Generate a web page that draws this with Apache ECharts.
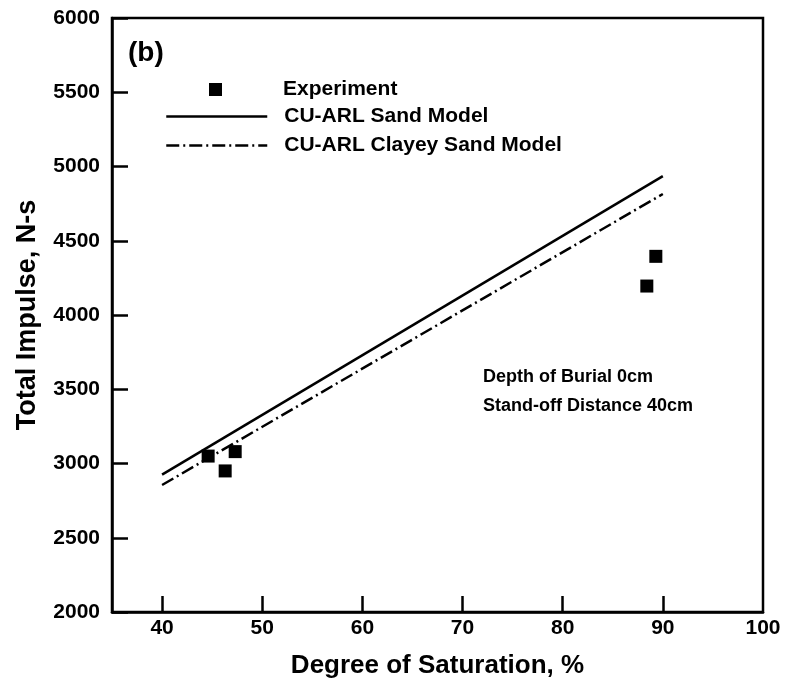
<!DOCTYPE html>
<html>
<head>
<meta charset="utf-8">
<script src="https://cdn.jsdelivr.net/npm/echarts@6/dist/echarts.min.js"></script>
<style>
  html, body { margin: 0; padding: 0; background: #fff; }
  #chart { width: 785px; height: 685px; }
</style>
</head>
<body>
<div id="chart"></div>
<script>
// experiment points (degree of saturation %, total impulse N-s)
var expX = [44.6, 46.3, 47.3, 88.4, 89.3];
var expY = [3050, 2950, 3080, 4195, 4395];
// model lines
var modelX = [40, 90];
var sandY = [2925, 4935];
var clayeyY = [2855, 4815];

var FONT = 'Liberation Sans, Arial, sans-serif';

function pairs(xs, ys) {
    return xs.map(function (x, i) { return [x, ys[i]]; });
}

var chart = echarts.init(document.getElementById('chart'));
chart.setOption({
    animation: false,
    backgroundColor: '#fff',
    grid: {
        left: 112, top: 18, right: 22, bottom: 73,
        show: true, borderColor: '#000', borderWidth: 2.5
    },
    xAxis: {
        type: 'value', min: 35, max: 100, interval: 5,
        name: 'Degree of Saturation, %',
        nameLocation: 'middle', nameGap: 41,
        nameTextStyle: { fontFamily: FONT, fontWeight: 'bold', fontSize: 26, color: '#000' },
        axisLine: { lineStyle: { color: '#000', width: 2.5 } },
        axisTick: {
            inside: true, length: 16, lineStyle: { color: '#000', width: 2.5 },
            customValues: [40, 50, 60, 70, 80, 90]
        },
        axisLabel: {
            margin: 6, fontFamily: FONT, fontWeight: 'bold', fontSize: 21, color: '#000',
            customValues: [40, 50, 60, 70, 80, 90, 100]
        },
        splitLine: { show: false }
    },
    yAxis: {
        type: 'value', min: 2000, max: 6000, interval: 500,
        name: 'Total Impulse, N-s',
        nameLocation: 'middle', nameGap: 71, nameRotate: 90,
        nameTextStyle: { fontFamily: FONT, fontWeight: 'bold', fontSize: 27, color: '#000' },
        axisLine: { lineStyle: { color: '#000', width: 2.5 } },
        axisTick: { inside: true, length: 16, lineStyle: { color: '#000', width: 2.5 } },
        axisLabel: {
            margin: 12, fontFamily: FONT, fontWeight: 'bold', fontSize: 21, color: '#000',
            formatter: function (v) { return String(v); }
        },
        splitLine: { show: false }
    },
    legend: [{
        data: ['Experiment'],
        left: 209, top: 79, padding: 0,
        itemWidth: 13, itemHeight: 13, icon: 'rect',
        itemStyle: { color: '#000', opacity: 1 },
        textStyle: { fontFamily: FONT, fontWeight: 'bold', fontSize: 21, color: '#000', padding: [0, 0, 0, 56] }
    }, {
        data: ['CU-ARL Sand Model'],
        left: 165, top: 106, padding: 0,
        itemWidth: 101, itemHeight: 14,
        itemStyle: { opacity: 0 },
        lineStyle: { color: '#000', width: 2.5, opacity: 1 },
        textStyle: { fontFamily: FONT, fontWeight: 'bold', fontSize: 21, color: '#000', padding: [0, 0, 0, 12] }
    }, {
        data: ['CU-ARL Clayey Sand Model'],
        left: 165, top: 135, padding: 0,
        itemWidth: 101, itemHeight: 14,
        itemStyle: { opacity: 0 },
        lineStyle: { color: '#000', width: 2.5, opacity: 1 },
        textStyle: { fontFamily: FONT, fontWeight: 'bold', fontSize: 21, color: '#000', padding: [0, 0, 0, 12] }
    }],
    graphic: [{
        type: 'text', left: 128, top: 39,
        style: { text: '(b)', font: 'bold 28px ' + FONT, fill: '#000' }
    }, {
        type: 'text', left: 483, top: 368,
        style: { text: 'Depth of Burial 0cm', font: 'bold 18px ' + FONT, fill: '#000' }
    }, {
        type: 'text', left: 483, top: 397,
        style: { text: 'Stand-off Distance 40cm', font: 'bold 18px ' + FONT, fill: '#000' }
    }],
    series: [{
        name: 'Experiment',
        type: 'scatter',
        symbol: 'rect',
        symbolSize: 13,
        itemStyle: { color: '#000', opacity: 1 },
        data: pairs(expX, expY),
        z: 3
    }, {
        name: 'CU-ARL Sand Model',
        type: 'line',
        showSymbol: false, symbol: 'none',
        lineStyle: { color: '#000', width: 2.5, type: 'solid' },
        itemStyle: { color: '#000' },
        data: pairs(modelX, sandY)
    }, {
        name: 'CU-ARL Clayey Sand Model',
        type: 'line',
        showSymbol: false, symbol: 'none',
        lineStyle: { color: '#000', width: 2.5, type: [13, 4, 2, 4] },
        itemStyle: { color: '#000' },
        data: pairs(modelX, clayeyY)
    }]
});
</script>
</body>
</html>
